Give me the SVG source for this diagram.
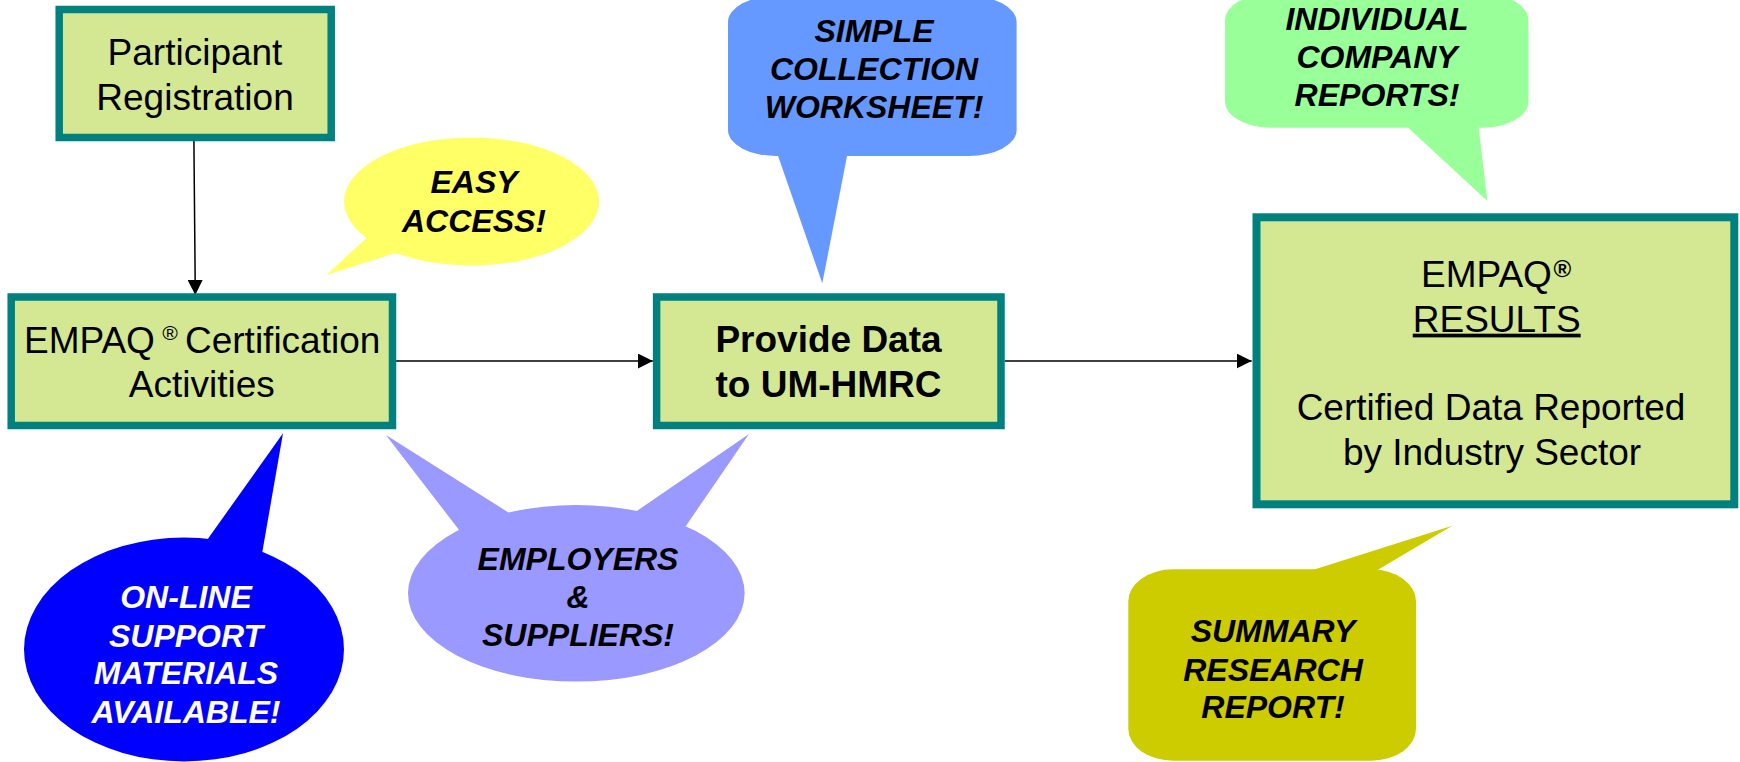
<svg xmlns="http://www.w3.org/2000/svg" width="1740" height="762" viewBox="0 0 1740 762">
<defs>
<style>
.box{fill:#D4E894;stroke:#00807F;stroke-width:7.5}
.t{font-family:"Liberation Sans",Arial,sans-serif;font-size:37px;fill:#000;text-anchor:middle}
.b{font-weight:bold}
.c{font-family:"Liberation Sans",Arial,sans-serif;font-size:32px;font-weight:bold;font-style:italic;fill:#000;text-anchor:middle}
.conn{stroke:#000;stroke-width:1.5;fill:none}
</style>
<marker id="ah" markerWidth="15" markerHeight="15" refX="15" refY="7.5" orient="auto" markerUnits="userSpaceOnUse">
<path d="M0,0 L15,7.5 L0,15 z" fill="#000"/>
</marker>
</defs>
<rect width="1740" height="762" fill="#fff"/>

<g id="connectors">
<line class="conn" x1="193.9" y1="141" x2="195.3" y2="295" marker-end="url(#ah)"/>
<line class="conn" x1="396" y1="361" x2="652.9" y2="361" marker-end="url(#ah)"/>
<line class="conn" x1="1004.7" y1="361" x2="1251.7" y2="361" marker-end="url(#ah)"/>
</g>

<g id="participant-registration">
<rect class="box" x="59.2" y="9.5" width="272" height="128"/>
<text class="t" x="195" y="65">Participant</text>
<text class="t" x="195" y="110">Registration</text>
</g>

<g id="certification-activities">
<rect class="box" x="11.2" y="297" width="381.3" height="128.5"/>
<text class="t" style="text-anchor:start" x="24" y="353.3">EMPAQ</text>
<text class="t" style="text-anchor:start;font-size:21px;font-style:italic" x="162" y="340">®</text>
<text class="t" style="text-anchor:start" x="185" y="353.3">Certification</text>
<text class="t" x="201.8" y="397.3">Activities</text>
</g>

<g id="provide-data">
<rect class="box" x="656.6" y="297" width="344.4" height="128.5"/>
<text class="t b" x="828.5" y="352.3">Provide Data</text>
<text class="t b" x="828.5" y="396.7">to UM-HMRC</text>
</g>

<g id="results">
<rect class="box" x="1256.5" y="217.3" width="477.8" height="287" style="stroke-width:8"/>
<text class="t" style="text-anchor:start" x="1421" y="286.7">EMPAQ</text>
<text class="t b" style="text-anchor:start;font-size:24px" x="1553.5" y="277">®</text>
<text class="t" x="1496.7" y="331.7" text-decoration="underline">RESULTS</text>
<text class="t" x="1491" y="420">Certified Data Reported</text>
<text class="t" x="1492" y="465">by Industry Sector</text>
</g>

<g id="callout-easy-access">
<ellipse cx="471.5" cy="201.5" rx="127.5" ry="64" fill="#FFFF66"/>
<polygon points="372,233 326.3,275 405,250" fill="#FFFF66"/>
<text class="c" x="474" y="193.3">EASY</text>
<text class="c" x="474" y="231.7">ACCESS!</text>
</g>

<g id="callout-simple-collection">
<rect x="728" y="-4" width="288.6" height="160" rx="48" ry="26" fill="#6699FF"/>
<polygon points="776,150 822.3,283.3 848.2,150" fill="#6699FF"/>
<text class="c" x="874" y="41.7">SIMPLE</text>
<text class="c" x="874" y="80">COLLECTION</text>
<text class="c" x="874" y="118.3">WORKSHEET!</text>
</g>

<g id="callout-individual-reports">
<rect x="1225" y="-6" width="303.5" height="133.7" rx="46" ry="26" fill="#99FF99"/>
<polygon points="1402,122 1487.4,201 1478,122" fill="#99FF99"/>
<text class="c" x="1377" y="30">INDIVIDUAL</text>
<text class="c" x="1377" y="68.3">COMPANY</text>
<text class="c" x="1377" y="106">REPORTS!</text>
</g>

<g id="callout-online-support">
<ellipse cx="184" cy="649.5" rx="160" ry="112" fill="#0000FF"/>
<polygon points="203.5,545 283,433.3 261.6,556" fill="#0000FF"/>
<text class="c" style="fill:#fff" x="186" y="608.3">ON-LINE</text>
<text class="c" style="fill:#fff" x="186" y="646.7">SUPPORT</text>
<text class="c" style="fill:#fff" x="186" y="684">MATERIALS</text>
<text class="c" style="fill:#fff" x="186" y="722.7">AVAILABLE!</text>
</g>

<g id="callout-employers-suppliers">
<ellipse cx="576.3" cy="593.3" rx="168.3" ry="88.3" fill="#9999FF"/>
<polygon points="460.6,532 385.9,435 514,516" fill="#9999FF"/>
<polygon points="631,515 749,434 685.4,526.7" fill="#9999FF"/>
<text class="c" x="578" y="570">EMPLOYERS</text>
<text class="c" x="578" y="608">&amp;</text>
<text class="c" x="578" y="645.7">SUPPLIERS!</text>
</g>

<g id="callout-summary-report">
<rect x="1128.3" y="569.3" width="287.7" height="191.5" rx="45" ry="32" fill="#CCCC00"/>
<polygon points="1297,575 1452.3,525.7 1369,575" fill="#CCCC00"/>
<text class="c" x="1273" y="642.3">SUMMARY</text>
<text class="c" x="1273" y="680.7">RESEARCH</text>
<text class="c" x="1273" y="718.3">REPORT!</text>
</g>
</svg>
